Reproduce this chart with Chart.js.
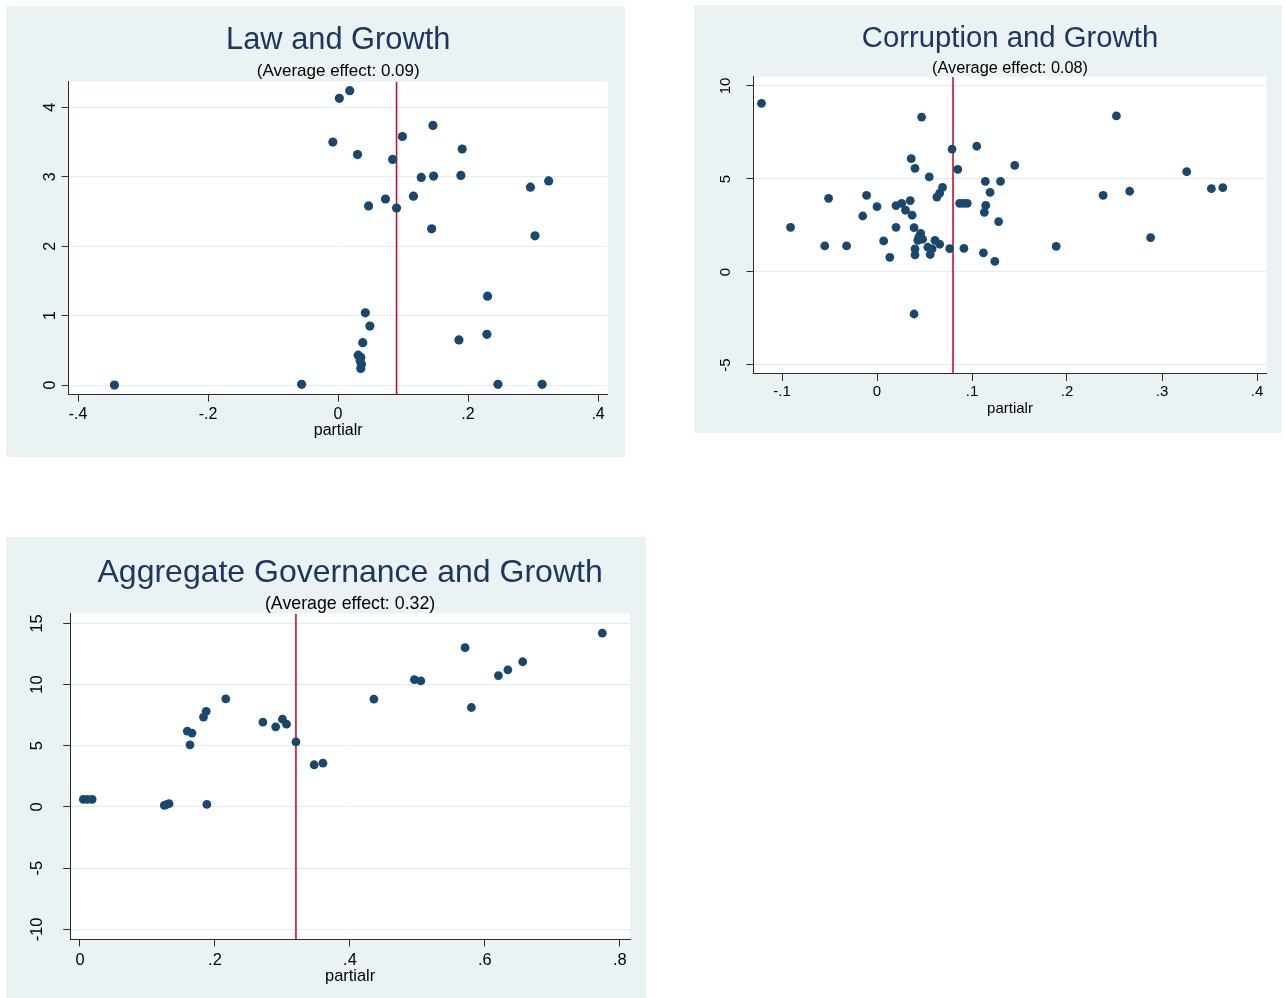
<!DOCTYPE html>
<html>
<head>
<meta charset="utf-8">
<script src="https://cdn.jsdelivr.net/npm/chart.js@4.4.1/dist/chart.umd.min.js"></script>
<style>
html,body{margin:0;padding:0;background:#ffffff;}
body{width:1286px;height:998px;position:relative;overflow:hidden;}
.panel{position:absolute;background:#eaf2f3;}
canvas{display:block;}
</style>
</head>
<body>
<div class="panel" style="left:6px;top:6px;width:619px;height:451px"><canvas id="c1" width="619" height="451"></canvas></div>
<div class="panel" style="left:694px;top:5px;width:588px;height:428px"><canvas id="c2" width="588" height="428"></canvas></div>
<div class="panel" style="left:6px;top:537px;width:640px;height:461px"><canvas id="c3" width="640" height="461"></canvas></div>
<script>
// ---------------- DATA ----------------
const xAxisTitle = 'partialr';

// Law and Growth
const lawTitle = 'Law and Growth';
const lawSubtitle = '(Average effect: 0.09)';
const lawAvgEffect = 0.09;
const lawPartialR = [0.002, 0.018, -0.008, 0.030, 0.084, 0.099, 0.146, 0.191, 0.128, 0.147,
  0.189, 0.296, 0.324, 0.073, 0.116, 0.047, 0.090, 0.144, 0.303, 0.230,
  0.229, 0.186, 0.042, 0.049, 0.038, 0.031, 0.035, 0.034, 0.036, 0.035,
  -0.056, 0.246, 0.314, -0.344];
const lawGrowth = [4.13, 4.24, 3.50, 3.32, 3.25, 3.58, 3.74, 3.40, 2.99, 3.01,
  3.02, 2.85, 2.94, 2.68, 2.72, 2.58, 2.55, 2.25, 2.15, 1.28,
  0.73, 0.65, 1.04, 0.85, 0.61, 0.43, 0.40, 0.35, 0.30, 0.24,
  0.01, 0.01, 0.01, 0.00];
const lawXTicks = [-0.4, -0.2, 0, 0.2, 0.4];
const lawXTickLabels = ['-.4', '-.2', '0', '.2', '.4'];
const lawYTicks = [0, 1, 2, 3, 4];
const lawYTickLabels = ['0', '1', '2', '3', '4'];

// Corruption and Growth
const corrTitle = 'Corruption and Growth';
const corrSubtitle = '(Average effect: 0.08)';
const corrAvgEffect = 0.08;
const corrPartialR = [-0.1216, 0.047, 0.252, 0.079, 0.105, 0.036, 0.040, 0.085, 0.145, 0.326,
  0.055, 0.114, 0.130, 0.069, 0.066, 0.063, 0.119, 0.266, 0.238, 0.352,
  0.364, -0.051, -0.011, 0.000, 0.020, 0.026, 0.035, 0.030, 0.037, -0.015,
  0.087, 0.091, 0.095, 0.1145, 0.113, 0.128, -0.091, 0.020, 0.039, 0.046,
  0.044, 0.043, 0.048, 0.061, 0.066, 0.007, -0.055, -0.032, 0.040, 0.0535,
  0.058, 0.0765, 0.0915, 0.112, 0.040, 0.056, 0.0135, 0.124, 0.1886, 0.288,
  0.039];
const corrGrowth = [9.07, 8.33, 8.39, 6.61, 6.76, 6.09, 5.57, 5.52, 5.73, 5.39,
  5.11, 4.87, 4.87, 4.55, 4.24, 4.03, 4.28, 4.34, 4.12, 4.48,
  4.53, 3.96, 4.12, 3.51, 3.57, 3.69, 3.84, 3.32, 3.05, 3.01,
  3.69, 3.69, 3.69, 3.58, 3.21, 2.71, 2.40, 2.40, 2.38, 2.08,
  1.88, 1.70, 1.76, 1.70, 1.49, 1.67, 1.40, 1.40, 1.24, 1.33,
  1.24, 1.25, 1.27, 1.03, 0.92, 0.94, 0.79, 0.57, 1.38, 1.85,
  -2.26];
const corrXTicks = [-0.1, 0, 0.1, 0.2, 0.3, 0.4];
const corrXTickLabels = ['-.1', '0', '.1', '.2', '.3', '.4'];
const corrYTicks = [-5, 0, 5, 10];
const corrYTickLabels = ['-5', '0', '5', '10'];

// Aggregate Governance and Growth
const govTitle = 'Aggregate Governance and Growth';
const govSubtitle = '(Average effect: 0.32)';
const govAvgEffect = 0.32;
const govPartialR = [0.005, 0.011, 0.018, 0.125, 0.128, 0.132, 0.188, 0.159, 0.166, 0.163,
  0.183, 0.187, 0.216, 0.271, 0.290, 0.300, 0.306, 0.320, 0.347, 0.360,
  0.4355, 0.4955, 0.505, 0.5706, 0.580, 0.620, 0.634, 0.656, 0.774];
const govGrowth = [0.62, 0.62, 0.62, 0.13, 0.20, 0.27, 0.21, 6.20, 6.04, 5.08,
  7.35, 7.82, 8.83, 6.94, 6.55, 7.18, 6.77, 5.32, 3.45, 3.58,
  8.82, 10.41, 10.30, 13.02, 8.13, 10.74, 11.21, 11.87, 14.20];
const govXTicks = [0, 0.2, 0.4, 0.6, 0.8];
const govXTickLabels = ['0', '.2', '.4', '.6', '.8'];
const govYTicks = [-10, -5, 0, 5, 10, 15];
const govYTickLabels = ['-10', '-5', '0', '5', '10', '15'];

// ---------------- STYLE ----------------
const FONT = "'Liberation Sans', Arial, Helvetica, sans-serif";
const NAVY = '#1a476f';
const RED = '#c8102e';
const TITLE_COLOR = '#1c3660';
const AXIS_COLOR = '#2a2a2a';
const GRID_COLOR = '#e2ebee';

const whitePlot = {
  id: 'whitePlot',
  beforeDraw(chart) {
    const a = chart.chartArea, ctx = chart.ctx;
    ctx.save();
    ctx.fillStyle = '#ffffff';
    ctx.fillRect(a.left, a.top, a.right - a.left, a.bottom - a.top);
    ctx.restore();
  }
};

function makeChart(canvasId, d, s) {
  const pts = d.xs.map((x, i) => ({ x: x, y: d.ys[i] }));
  const avgLine = [{ x: d.avg, y: s.yMin }, { x: d.avg, y: s.yMax }];
  return new Chart(document.getElementById(canvasId), {
    type: 'scatter',
    data: {
      datasets: [
        { data: pts, backgroundColor: NAVY, borderWidth: 0, pointRadius: s.r, pointHoverRadius: s.r, order: 1 },
        { data: avgLine, showLine: true, borderColor: RED, borderWidth: 1.6, pointRadius: 0, fill: false, order: 2 }
      ]
    },
    options: {
      responsive: false, animation: false, devicePixelRatio: 1, events: [],
      layout: { autoPadding: false, padding: { left: 0, right: s.padR, top: 0, bottom: s.padB } },
      plugins: {
        legend: { display: false },
        tooltip: { enabled: false },
        title: {
          display: true, text: d.title, fullSize: false, color: TITLE_COLOR,
          font: { family: FONT, size: s.titleSize, weight: 'normal', lineHeight: 1 },
          padding: { top: s.titlePadTop, bottom: 0 }
        },
        subtitle: {
          display: true, text: d.subtitle, fullSize: false, color: '#000000',
          font: { family: FONT, size: s.subSize, weight: 'normal', lineHeight: s.subLh },
          padding: { top: s.subPadTop, bottom: s.subPadBottom }
        }
      },
      scales: {
        x: {
          type: 'linear', position: 'bottom', min: s.xMin, max: s.xMax, bounds: 'data',
          afterBuildTicks: sc => { sc.ticks = d.xTicks.map(v => ({ value: v })); },
          afterFit: sc => { sc.height = s.xH; },
          ticks: {
            callback: (v, i) => d.xTickLabels[i], autoSkip: false, maxRotation: 0, minRotation: 0,
            font: { family: FONT, size: s.tickSize }, color: '#000000', padding: s.xTickPad
          },
          grid: { drawOnChartArea: false, drawTicks: true, tickLength: 7, tickColor: AXIS_COLOR, tickWidth: 1 },
          border: { display: true, color: AXIS_COLOR, width: 1 },
          title: {
            display: true, text: d.xTitle, color: '#000000',
            font: { family: FONT, size: s.tickSize, lineHeight: 1.2 }, padding: { top: 0, bottom: 0 }
          }
        },
        y: {
          type: 'linear', position: 'left', min: s.yMin, max: s.yMax, bounds: 'data',
          afterBuildTicks: sc => { sc.ticks = d.yTicks.map(v => ({ value: v })); },
          afterFit: sc => { sc.width = s.yW; },
          ticks: {
            callback: (v, i) => d.yTickLabels[i], autoSkip: false, minRotation: 90, maxRotation: 90,
            crossAlign: 'center', font: { family: FONT, size: s.tickSize }, color: '#000000', padding: s.yTickPad
          },
          grid: { color: GRID_COLOR, lineWidth: 1, drawTicks: true, tickLength: 7, tickColor: AXIS_COLOR, tickWidth: 1 },
          border: { display: true, color: AXIS_COLOR, width: 1 }
        }
      }
    },
    plugins: [whitePlot]
  });
}

makeChart('c1',
  { xs: lawPartialR, ys: lawGrowth, avg: lawAvgEffect, title: lawTitle, subtitle: lawSubtitle, xTitle: xAxisTitle,
    xTicks: lawXTicks, xTickLabels: lawXTickLabels, yTicks: lawYTicks, yTickLabels: lawYTickLabels },
  { xMin: -0.4145, xMax: 0.415, yMin: -0.139, yMax: 4.37,
    titleSize: 30.8, titlePadTop: 19.58, subSize: 17, subLh: 1, subPadTop: 6.08, subPadBottom: 2.2,
    yW: 62.6, padR: 17.2, padB: 16.4, xH: 45.9, tickSize: 16, xTickPad: 3.7, yTickPad: 7, r: 4.6 });

makeChart('c2',
  { xs: corrPartialR, ys: corrGrowth, avg: corrAvgEffect, title: corrTitle, subtitle: corrSubtitle, xTitle: xAxisTitle,
    xTicks: corrXTicks, xTickLabels: corrXTickLabels, yTicks: corrYTicks, yTickLabels: corrYTickLabels },
  { xMin: -0.130, xMax: 0.410, yMin: -5.48, yMax: 10.50,
    titleSize: 29.3, titlePadTop: 19.33, subSize: 16.3, subLh: 0.95, subPadTop: 7.57, subPadBottom: 0,
    yW: 59.5, padR: 15.5, padB: 15, xH: 44.1, tickSize: 15, xTickPad: 2.1, yTickPad: 12, r: 4.4 });

makeChart('c3',
  { xs: govPartialR, ys: govGrowth, avg: govAvgEffect, title: govTitle, subtitle: govSubtitle, xTitle: xAxisTitle,
    xTicks: govXTicks, xTickLabels: govXTickLabels, yTicks: govYTicks, yTickLabels: govYTickLabels },
  { xMin: -0.0145, xMax: 0.815, yMin: -10.82, yMax: 15.82,
    titleSize: 32, titlePadTop: 20, subSize: 17.8, subLh: 1, subPadTop: 6.08, subPadBottom: 0.52,
    yW: 64.2, padR: 16, padB: 12.16, xH: 46.44, tickSize: 16.4, xTickPad: 3.76, yTickPad: 14, r: 4.4 });
</script>
</body>
</html>
